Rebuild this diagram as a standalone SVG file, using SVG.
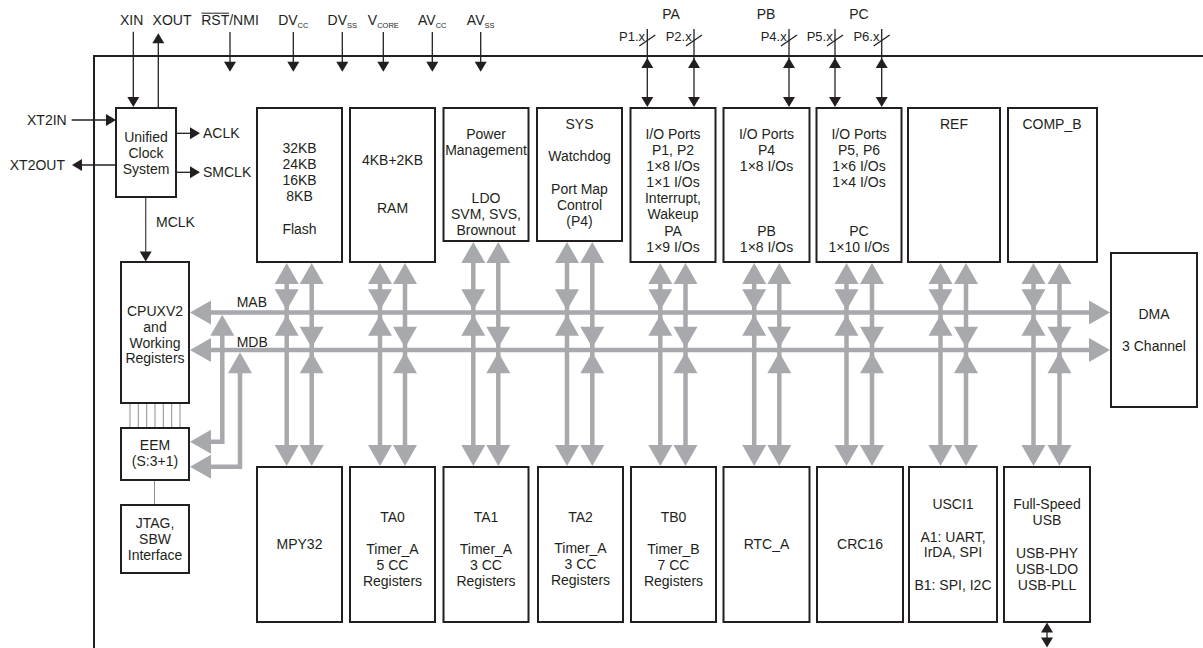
<svg xmlns="http://www.w3.org/2000/svg" width="1203" height="648" viewBox="0 0 1203 648">
<style>
.box{fill:#fff;stroke:#231f20;stroke-width:2}
.t{font-family:"Liberation Sans",Arial,sans-serif;font-size:14px;fill:#231f20;text-anchor:middle}
.te{font-family:"Liberation Sans",Arial,sans-serif;font-size:14px;fill:#231f20;text-anchor:end}
.tp{font-family:"Liberation Sans",Arial,sans-serif;font-size:13px;fill:#231f20;text-anchor:end}
.ts{font-family:"Liberation Sans",Arial,sans-serif;font-size:14px;fill:#231f20;text-anchor:start}
.sub{font-size:7.5px}
.bus{stroke:#a7a9ac;stroke-width:4.5;fill:none}
.gh{fill:#a7a9ac}
.sig{stroke:#231f20;stroke-width:1.3;fill:none}
.thin{stroke:#8e8f91;stroke-width:1;fill:none}
.bh{fill:#231f20}
.frame{stroke:#231f20;stroke-width:2;fill:none}
</style>
<defs>
<path id="hu" class="gh" d="M0,0 L12,21 L-12,21 Z"/>
<path id="hd" class="gh" d="M0,0 L12,-21 L-12,-21 Z"/>
<path id="hl" class="gh" d="M0,0 L21,-12 L21,12 Z"/>
<path id="hr" class="gh" d="M0,0 L-21,-12 L-21,12 Z"/>
<path id="bu" class="bh" d="M0,0 L6,10 L-6,10 Z"/>
<path id="bd" class="bh" d="M0,0 L6,-10 L-6,-10 Z"/>
<path id="bl" class="bh" d="M0,0 L10,-6 L10,6 Z"/>
<path id="br" class="bh" d="M0,0 L-10,-6 L-10,6 Z"/>
</defs>

<g id="frame">
<path class="frame" d="M94,648 V56 H1203"/>
</g>

<g id="connectors">
<line class="sig" x1="133.3" y1="31.7" x2="133.3" y2="99"/><use href="#bd" x="133.3" y="107"/>
<line class="sig" x1="158.3" y1="107" x2="158.3" y2="42"/><use href="#bu" x="158.3" y="33.3"/>
<line class="sig" x1="230" y1="32" x2="230" y2="63"/><use href="#bd" x="230" y="71.7"/>
<line class="sig" x1="293.3" y1="32" x2="293.3" y2="63"/><use href="#bd" x="293.3" y="71.7"/>
<line class="sig" x1="342.3" y1="32" x2="342.3" y2="63"/><use href="#bd" x="342.3" y="71.7"/>
<line class="sig" x1="383.3" y1="32" x2="383.3" y2="63"/><use href="#bd" x="383.3" y="71.7"/>
<line class="sig" x1="432.3" y1="32" x2="432.3" y2="63"/><use href="#bd" x="432.3" y="71.7"/>
<line class="sig" x1="480.7" y1="32" x2="480.7" y2="63"/><use href="#bd" x="480.7" y="71.7"/>
<line class="sig" x1="647.3" y1="29" x2="647.3" y2="99"/><use href="#bu" x="647.3" y="58"/><use href="#bd" x="647.3" y="107"/><line class="sig" x1="639.3" y1="46" x2="655.3" y2="35"/>
<line class="sig" x1="694" y1="29" x2="694" y2="99"/><use href="#bu" x="694" y="58"/><use href="#bd" x="694" y="107"/><line class="sig" x1="686" y1="46" x2="702" y2="35"/>
<line class="sig" x1="789" y1="29" x2="789" y2="99"/><use href="#bu" x="789" y="58"/><use href="#bd" x="789" y="107"/><line class="sig" x1="781" y1="46" x2="797" y2="35"/>
<line class="sig" x1="835" y1="29" x2="835" y2="99"/><use href="#bu" x="835" y="58"/><use href="#bd" x="835" y="107"/><line class="sig" x1="827" y1="46" x2="843" y2="35"/>
<line class="sig" x1="881.7" y1="29" x2="881.7" y2="99"/><use href="#bu" x="881.7" y="58"/><use href="#bd" x="881.7" y="107"/><line class="sig" x1="873.7" y1="46" x2="889.7" y2="35"/>
<line class="sig" x1="71.7" y1="120" x2="107" y2="120"/><use href="#br" x="116" y="120"/>
<line class="sig" x1="116" y1="165" x2="80" y2="165"/><use href="#bl" x="72" y="165"/>
<line class="sig" x1="176" y1="133.3" x2="191" y2="133.3"/><use href="#br" x="200" y="133.3"/>
<line class="sig" x1="176" y1="172.3" x2="191" y2="172.3"/><use href="#br" x="200" y="172.3"/>
<line class="sig" x1="145.7" y1="197" x2="145.7" y2="253" style="stroke:#4d4d4f"/><use href="#bd" x="145.7" y="261.5"/>
<path class="thin" d="M130,403 V428 M138.3,403 V428 M146.7,403 V428 M155,403 V428 M163.3,403 V428 M171.7,403 V428 M180,403 V428"/>
<line class="thin" x1="154.5" y1="480" x2="154.5" y2="505"/>
<line class="sig" x1="1047" y1="630" x2="1047" y2="640"/><use href="#bu" x="1047" y="622.5"/><use href="#bd" x="1047" y="647.5"/>

<line class="bus" x1="205" y1="312.5" x2="1095" y2="312.5"/>
<use href="#hl" x="190" y="312.5"/><use href="#hr" x="1110" y="312.5"/>
<line class="bus" x1="205" y1="350" x2="1095" y2="350"/>
<use href="#hl" x="190" y="350"/><use href="#hr" x="1110" y="350"/>
<path class="bus" d="M222.3,325 V441.7 H205"/>
<use href="#hu" x="222.3" y="314.8"/><use href="#hl" x="190" y="441.7"/>
<path class="bus" d="M240,362 V466.7 H205"/>
<use href="#hu" x="240" y="352.3"/><use href="#hl" x="190" y="466.7"/>

<g>
<line class="bus" x1="286.7" y1="278" x2="286.7" y2="452"/><line class="bus" x1="311.7" y1="278" x2="311.7" y2="452"/>
<use href="#hu" x="286.7" y="263"/><use href="#hd" x="286.7" y="310.2"/><use href="#hu" x="286.7" y="314.8"/><use href="#hd" x="286.7" y="466"/>
<use href="#hu" x="311.7" y="263"/><use href="#hd" x="311.7" y="347.7"/><use href="#hu" x="311.7" y="352.3"/><use href="#hd" x="311.7" y="466"/>
</g>
<g>
<line class="bus" x1="380" y1="278" x2="380" y2="452"/><line class="bus" x1="405" y1="278" x2="405" y2="452"/>
<use href="#hu" x="380" y="263"/><use href="#hd" x="380" y="310.2"/><use href="#hu" x="380" y="314.8"/><use href="#hd" x="380" y="466"/>
<use href="#hu" x="405" y="263"/><use href="#hd" x="405" y="347.7"/><use href="#hu" x="405" y="352.3"/><use href="#hd" x="405" y="466"/>
</g>
<g>
<line class="bus" x1="473.3" y1="257" x2="473.3" y2="452"/><line class="bus" x1="498.3" y1="257" x2="498.3" y2="452"/>
<use href="#hu" x="473.3" y="242"/><use href="#hd" x="473.3" y="310.2"/><use href="#hu" x="473.3" y="314.8"/><use href="#hd" x="473.3" y="466"/>
<use href="#hu" x="498.3" y="242"/><use href="#hd" x="498.3" y="347.7"/><use href="#hu" x="498.3" y="352.3"/><use href="#hd" x="498.3" y="466"/>
</g>
<g>
<line class="bus" x1="567" y1="257" x2="567" y2="452"/><line class="bus" x1="592.3" y1="257" x2="592.3" y2="452"/>
<use href="#hu" x="567" y="242"/><use href="#hd" x="567" y="310.2"/><use href="#hu" x="567" y="314.8"/><use href="#hd" x="567" y="466"/>
<use href="#hu" x="592.3" y="242"/><use href="#hd" x="592.3" y="347.7"/><use href="#hu" x="592.3" y="352.3"/><use href="#hd" x="592.3" y="466"/>
</g>
<g>
<line class="bus" x1="660.3" y1="278" x2="660.3" y2="452"/><line class="bus" x1="685.5" y1="278" x2="685.5" y2="452"/>
<use href="#hu" x="660.3" y="263"/><use href="#hd" x="660.3" y="310.2"/><use href="#hu" x="660.3" y="314.8"/><use href="#hd" x="660.3" y="466"/>
<use href="#hu" x="685.5" y="263"/><use href="#hd" x="685.5" y="347.7"/><use href="#hu" x="685.5" y="352.3"/><use href="#hd" x="685.5" y="466"/>
</g>
<g>
<line class="bus" x1="754.2" y1="278" x2="754.2" y2="452"/><line class="bus" x1="779.3" y1="278" x2="779.3" y2="452"/>
<use href="#hu" x="754.2" y="263"/><use href="#hd" x="754.2" y="310.2"/><use href="#hu" x="754.2" y="314.8"/><use href="#hd" x="754.2" y="466"/>
<use href="#hu" x="779.3" y="263"/><use href="#hd" x="779.3" y="347.7"/><use href="#hu" x="779.3" y="352.3"/><use href="#hd" x="779.3" y="466"/>
</g>
<g>
<line class="bus" x1="846.5" y1="278" x2="846.5" y2="452"/><line class="bus" x1="872" y1="278" x2="872" y2="452"/>
<use href="#hu" x="846.5" y="263"/><use href="#hd" x="846.5" y="310.2"/><use href="#hu" x="846.5" y="314.8"/><use href="#hd" x="846.5" y="466"/>
<use href="#hu" x="872" y="263"/><use href="#hd" x="872" y="347.7"/><use href="#hu" x="872" y="352.3"/><use href="#hd" x="872" y="466"/>
</g>
<g>
<line class="bus" x1="940.5" y1="278" x2="940.5" y2="452"/><line class="bus" x1="966" y1="278" x2="966" y2="452"/>
<use href="#hu" x="940.5" y="263"/><use href="#hd" x="940.5" y="310.2"/><use href="#hu" x="940.5" y="314.8"/><use href="#hd" x="940.5" y="466"/>
<use href="#hu" x="966" y="263"/><use href="#hd" x="966" y="347.7"/><use href="#hu" x="966" y="352.3"/><use href="#hd" x="966" y="466"/>
</g>
<g>
<line class="bus" x1="1033.5" y1="278" x2="1033.5" y2="452"/><line class="bus" x1="1059.5" y1="278" x2="1059.5" y2="452"/>
<use href="#hu" x="1033.5" y="263"/><use href="#hd" x="1033.5" y="310.2"/><use href="#hu" x="1033.5" y="314.8"/><use href="#hd" x="1033.5" y="466"/>
<use href="#hu" x="1059.5" y="263"/><use href="#hd" x="1059.5" y="347.7"/><use href="#hu" x="1059.5" y="352.3"/><use href="#hd" x="1059.5" y="466"/>
</g>
<text class="ts" x="236.7" y="307">MAB</text>
<text class="ts" x="236.7" y="347">MDB</text>
</g>

<g id="labels">
<text class="t" x="131.7" y="25">XIN</text>
<text class="t" x="172" y="25">XOUT</text>
<text class="t" x="230" y="25">RST/NMI</text>
<line x1="201.5" y1="13.2" x2="229" y2="13.2" stroke="#231f20" stroke-width="1"/>
<text class="t" x="293.3" y="25">DV<tspan class="sub" dy="3">CC</tspan></text>
<text class="t" x="342.3" y="25">DV<tspan class="sub" dy="3">SS</tspan></text>
<text class="t" x="383.3" y="25">V<tspan class="sub" dy="3">CORE</tspan></text>
<text class="t" x="432.3" y="25">AV<tspan class="sub" dy="3">CC</tspan></text>
<text class="t" x="480.7" y="25">AV<tspan class="sub" dy="3">SS</tspan></text>
<text class="t" x="671" y="19">PA</text>
<text class="t" x="766" y="19">PB</text>
<text class="t" x="859" y="19">PC</text>
<text class="tp" x="645" y="41">P1.x</text>
<text class="tp" x="691.7" y="41">P2.x</text>
<text class="tp" x="786.7" y="41">P4.x</text>
<text class="tp" x="832.7" y="41">P5.x</text>
<text class="tp" x="879.4" y="41">P6.x</text>
<text class="te" x="66.7" y="125">XT2IN</text>
<text class="te" x="65" y="170">XT2OUT</text>
<text class="ts" x="203" y="138">ACLK</text>
<text class="ts" x="203" y="177">SMCLK</text>
<text class="ts" x="156" y="227">MCLK</text>
</g>

<g id="ucs"><rect class="box" x="116" y="108" width="60" height="89"/>
<text class="t" x="146" y="142">Unified</text><text class="t" x="146" y="158">Clock</text><text class="t" x="146" y="174">System</text></g>
<g id="cpu"><rect class="box" x="121" y="262" width="68" height="141"/>
<text class="t" x="155" y="316">CPUXV2</text><text class="t" x="155" y="332">and</text><text class="t" x="155" y="347.5">Working</text><text class="t" x="155" y="363">Registers</text></g>
<g id="eem"><rect class="box" x="121" y="428" width="68" height="52"/>
<text class="t" x="155" y="450">EEM</text><text class="t" x="155" y="466">(S:3+1)</text></g>
<g id="jtag"><rect class="box" x="121" y="505" width="68" height="68"/>
<text class="t" x="155" y="528">JTAG,</text><text class="t" x="155" y="544">SBW</text><text class="t" x="155" y="560">Interface</text></g>

<g id="flash"><rect class="box" x="257" y="108" width="85" height="154"/>
<text class="t" x="299.5" y="153">32KB</text><text class="t" x="299.5" y="169">24KB</text><text class="t" x="299.5" y="185">16KB</text><text class="t" x="299.5" y="201">8KB</text><text class="t" x="299.5" y="234">Flash</text></g>
<g id="ram"><rect class="box" x="350" y="108" width="85" height="154"/>
<text class="t" x="392.5" y="165">4KB+2KB</text><text class="t" x="392.5" y="213">RAM</text></g>
<g id="pmm"><rect class="box" x="443.5" y="108" width="85" height="133"/>
<text class="t" x="486" y="139">Power</text><text class="t" x="486" y="155">Management</text><text class="t" x="486" y="203">LDO</text><text class="t" x="486" y="219">SVM, SVS,</text><text class="t" x="486" y="235">Brownout</text></g>
<g id="sys"><rect class="box" x="537" y="108" width="85" height="133"/>
<text class="t" x="579.5" y="129">SYS</text><text class="t" x="579.5" y="161">Watchdog</text><text class="t" x="579.5" y="194">Port Map</text><text class="t" x="579.5" y="210">Control</text><text class="t" x="579.5" y="226">(P4)</text></g>
<g id="io12"><rect class="box" x="630.5" y="108" width="85" height="154"/>
<text class="t" x="673" y="139">I/O Ports</text><text class="t" x="673" y="155">P1, P2</text><text class="t" x="673" y="171">1×8 I/Os</text><text class="t" x="673" y="187">1×1 I/Os</text><text class="t" x="673" y="203">Interrupt,</text><text class="t" x="673" y="219">Wakeup</text><text class="t" x="673" y="236">PA</text><text class="t" x="673" y="252">1×9 I/Os</text></g>
<g id="io4"><rect class="box" x="723.5" y="108" width="86" height="154"/>
<text class="t" x="766.5" y="139">I/O Ports</text><text class="t" x="766.5" y="155">P4</text><text class="t" x="766.5" y="171">1×8 I/Os</text><text class="t" x="766.5" y="236">PB</text><text class="t" x="766.5" y="252">1×8 I/Os</text></g>
<g id="io56"><rect class="box" x="816.5" y="108" width="85" height="154"/>
<text class="t" x="859" y="139">I/O Ports</text><text class="t" x="859" y="155">P5, P6</text><text class="t" x="859" y="171">1×6 I/Os</text><text class="t" x="859" y="187">1×4 I/Os</text><text class="t" x="859" y="236">PC</text><text class="t" x="859" y="252">1×10 I/Os</text></g>
<g id="ref"><rect class="box" x="908" y="108" width="92" height="154"/>
<text class="t" x="954" y="129">REF</text></g>
<g id="compb"><rect class="box" x="1008" y="108" width="89" height="154"/>
<text class="t" x="1052" y="129">COMP_B</text></g>
<g id="dma"><rect class="box" x="1111" y="253" width="86" height="154"/>
<text class="t" x="1154" y="319">DMA</text><text class="t" x="1154" y="351">3 Channel</text></g>

<g id="mpy"><rect class="box" x="257" y="467" width="85" height="155"/>
<text class="t" x="299.5" y="549">MPY32</text></g>
<g id="ta0"><rect class="box" x="350" y="467" width="85" height="155"/>
<text class="t" x="392.5" y="522">TA0</text><text class="t" x="392.5" y="554">Timer_A</text><text class="t" x="392.5" y="570">5 CC</text><text class="t" x="392.5" y="586">Registers</text></g>
<g id="ta1"><rect class="box" x="443.5" y="467" width="85" height="155"/>
<text class="t" x="486" y="522">TA1</text><text class="t" x="486" y="554">Timer_A</text><text class="t" x="486" y="570">3 CC</text><text class="t" x="486" y="586">Registers</text></g>
<g id="ta2"><rect class="box" x="538" y="467" width="85" height="155"/>
<text class="t" x="580.5" y="522">TA2</text><text class="t" x="580.5" y="553">Timer_A</text><text class="t" x="580.5" y="569">3 CC</text><text class="t" x="580.5" y="585">Registers</text></g>
<g id="tb0"><rect class="box" x="631" y="467" width="85" height="155"/>
<text class="t" x="673.5" y="522">TB0</text><text class="t" x="673.5" y="554">Timer_B</text><text class="t" x="673.5" y="570">7 CC</text><text class="t" x="673.5" y="586">Registers</text></g>
<g id="rtc"><rect class="box" x="723.5" y="467" width="86" height="155"/>
<text class="t" x="766.5" y="549">RTC_A</text></g>
<g id="crc"><rect class="box" x="817" y="467" width="86" height="155"/>
<text class="t" x="860" y="549">CRC16</text></g>
<g id="usci"><rect class="box" x="909" y="467" width="88" height="155"/>
<text class="t" x="953" y="509">USCI1</text><text class="t" x="953" y="541.5">A1: UART,</text><text class="t" x="953" y="557">IrDA, SPI</text><text class="t" x="953" y="590">B1: SPI, I2C</text></g>
<g id="usb"><rect class="box" x="1004" y="467" width="86" height="155"/>
<text class="t" x="1047" y="509">Full-Speed</text><text class="t" x="1047" y="525">USB</text><text class="t" x="1047" y="557.5">USB-PHY</text><text class="t" x="1047" y="573.5">USB-LDO</text><text class="t" x="1047" y="590">USB-PLL</text></g>
</svg>
